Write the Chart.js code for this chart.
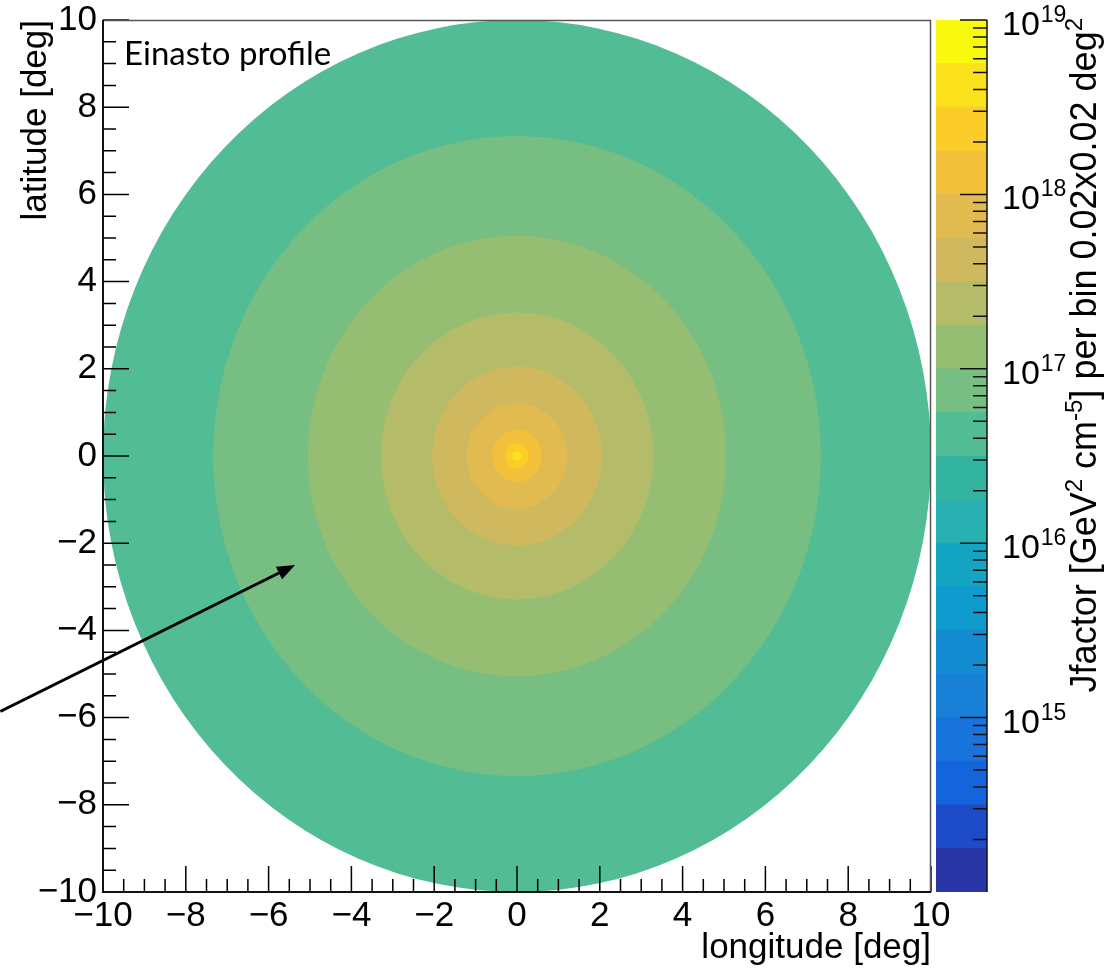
<!DOCTYPE html>
<html>
<head>
<meta charset="utf-8">
<script src="https://cdn.jsdelivr.net/npm/chart.js@4/dist/chart.umd.min.js"></script>
<style>
  body { margin: 0; background: #fff; }
  #wrap { position: relative; width: 1112px; height: 973px; }
  #wrap canvas { position: absolute; left: 0; top: 0; }
</style>
</head>
<body>
<div id="wrap">
  <canvas id="mapCanvas" width="1112" height="973"></canvas>
  <canvas id="barCanvas" width="1112" height="973"></canvas>
</div>
<script>
"use strict";

// rings of the J-factor map (radius in deg, J value of the ring)
const centerLon = 0;
const centerLat = 0;
const ringRadius = [10, 7.34, 5.05, 3.29, 2.05, 1.21, 0.60, 0.29, 0.11];
const ringJ = [4.2e16, 7.5e16, 1.3e17, 2.4e17, 4.2e17, 7.5e17, 1.3e18, 2.4e18, 4.2e18];

// contour levels of the palette (log10 J), 20 bands
const contourExp = [14, 14.25, 14.5, 14.75, 15, 15.25, 15.5, 15.75, 16, 16.25, 16.5,
                    16.75, 17, 17.25, 17.5, 17.75, 18, 18.25, 18.5, 18.75, 19];
const bandColors = ['#2837a5', '#1e4bc8', '#1464dc', '#1973dc', '#1980d7', '#148cd2',
                    '#0f9bcd', '#14a5c3', '#28afaf', '#32b4a0', '#52bc94', '#76be82',
                    '#96be73', '#b4bc69', '#cfb85d', '#e1bb50', '#f3c03c', '#fccd28',
                    '#fbe21d', '#f9f80f'];

// colour bar tick labels (powers of ten) and minor mantissas
const cbarLabelExp = [15, 16, 17, 18, 19];
const cbarMinorDecades = [14, 15, 16, 17, 18];
const cbarMinorMantissa = [2, 3, 4, 5, 6, 7, 8, 9];

// arrow annotation, in deg
const arrowFrom = [-12.48, -5.86];
const arrowTo = [-5.36, -2.50];

const FONT = '"Liberation Sans", Arial, sans-serif';

function colorForJ(j) {
  const e = Math.log10(j);
  for (let k = 0; k < bandColors.length; k++) {
    if (e >= contourExp[k] && e < contourExp[k + 1]) return bandColors[k];
  }
  return bandColors[bandColors.length - 1];
}

function tickLabel(value) {
  if (Math.abs(value % 2) > 1e-9) return '';
  return value < 0 ? '\u2212' + (-value) : String(value);
}

function isMajor(value) {
  return Math.abs(value % 2) < 1e-9;
}

// filled rings, drawn through the scales
const ringsPlugin = {
  id: 'rings',
  beforeDatasetsDraw(chart) {
    const {ctx, chartArea: a, scales: {x, y}} = chart;
    const rings = chart.data.datasets[0].data;
    ctx.save();
    ctx.beginPath();
    ctx.rect(a.left, a.top, a.right - a.left, a.bottom - a.top);
    ctx.clip();
    rings.forEach(p => {
      const cx = x.getPixelForValue(p.x);
      const cy = y.getPixelForValue(p.y);
      const rx = x.getPixelForValue(p.x + p.r) - cx;
      const ry = cy - y.getPixelForValue(p.y + p.r);
      ctx.fillStyle = colorForJ(p.j);
      ctx.beginPath();
      ctx.ellipse(cx, cy, rx, ry, 0, 0, 2 * Math.PI);
      ctx.fill();
    });
    ctx.restore();
  }
};

// ROOT-like frame with inward ticks, arrow and label
const framePlugin = {
  id: 'frame',
  afterDraw(chart) {
    const {ctx, chartArea: a, scales: {x, y}} = chart;
    ctx.save();

    ctx.strokeStyle = '#000';
    ctx.lineWidth = 1.5;
    ctx.beginPath();
    x.ticks.forEach(t => {
      const px = x.getPixelForValue(t.value);
      const len = isMajor(t.value) ? 26 : 13;
      ctx.moveTo(px, a.bottom);
      ctx.lineTo(px, a.bottom - len);
    });
    y.ticks.forEach(t => {
      const py = y.getPixelForValue(t.value);
      const len = isMajor(t.value) ? 26 : 13;
      ctx.moveTo(a.left, py);
      ctx.lineTo(a.left + len, py);
    });
    ctx.stroke();

    // frame
    ctx.strokeStyle = '#555';
    ctx.lineWidth = 1.5;
    ctx.beginPath();
    ctx.moveTo(a.left, a.top + 0.5);
    ctx.lineTo(a.right, a.top + 0.5);
    ctx.moveTo(a.right - 0.5, a.top);
    ctx.lineTo(a.right - 0.5, a.bottom);
    ctx.stroke();
    ctx.strokeStyle = '#111';
    ctx.lineWidth = 2;
    ctx.beginPath();
    ctx.moveTo(a.left, a.top);
    ctx.lineTo(a.left, a.bottom);
    ctx.lineTo(a.right, a.bottom);
    ctx.stroke();

    // arrow
    const x0 = x.getPixelForValue(arrowFrom[0]), y0 = y.getPixelForValue(arrowFrom[1]);
    const x1 = x.getPixelForValue(arrowTo[0]), y1 = y.getPixelForValue(arrowTo[1]);
    const ang = Math.atan2(y1 - y0, x1 - x0);
    const headLen = 18, headW = 7;
    ctx.strokeStyle = '#000';
    ctx.fillStyle = '#000';
    ctx.lineWidth = 3;
    ctx.beginPath();
    ctx.moveTo(x0, y0);
    ctx.lineTo(x1 - headLen * Math.cos(ang), y1 - headLen * Math.sin(ang));
    ctx.stroke();
    ctx.beginPath();
    ctx.moveTo(x1, y1);
    ctx.lineTo(x1 - headLen * Math.cos(ang) + headW * Math.sin(ang), y1 - headLen * Math.sin(ang) - headW * Math.cos(ang));
    ctx.lineTo(x1 - headLen * Math.cos(ang) - headW * Math.sin(ang), y1 - headLen * Math.sin(ang) + headW * Math.cos(ang));
    ctx.closePath();
    ctx.fill();

    // label
    ctx.font = '33px Lato, "Open Sans", sans-serif';
    ctx.fillStyle = '#000';
    ctx.textAlign = 'left';
    ctx.textBaseline = 'alphabetic';
    ctx.fillText('Einasto profile', a.left + 21, a.top + 45);

    ctx.restore();
  }
};

var mapChart = new Chart(document.getElementById('mapCanvas'), {
  type: 'scatter',
  data: {
    datasets: [{
      label: 'Jfactor',
      data: ringRadius.map((r, i) => ({x: centerLon, y: centerLat, r: r, j: ringJ[i]})),
      pointRadius: 0
    }]
  },
  options: {
    responsive: false,
    animation: false,
    layout: { padding: { top: 20, right: 181, left: 0, bottom: 0 } },
    plugins: { legend: { display: false }, tooltip: { enabled: false } },
    scales: {
      x: {
        type: 'linear', min: -10, max: 10,
        ticks: { stepSize: 0.5, autoSkip: false, maxRotation: 0, minRotation: 0, padding: 3,
                 color: '#000', font: { family: FONT, size: 35 }, callback: tickLabel },
        grid: { display: false, drawTicks: false },
        border: { display: false },
        title: { display: true, text: 'longitude [deg]', align: 'end', color: '#000',
                 font: { family: FONT, size: 35 }, padding: { top: 0, bottom: 4 } },
        afterFit: s => { s.height = 81; s.paddingLeft = 0; s.paddingRight = 0; }
      },
      y: {
        type: 'linear', min: -10, max: 10,
        ticks: { stepSize: 0.5, autoSkip: false, padding: 6,
                 color: '#000', font: { family: FONT, size: 35 }, callback: tickLabel },
        grid: { display: false, drawTicks: false },
        border: { display: false },
        title: { display: true, text: 'latitude [deg]', align: 'end', color: '#000',
                 font: { family: FONT, size: 35 }, padding: { top: 15, bottom: 0 } },
        afterFit: s => { s.width = 103; s.paddingTop = 0; s.paddingBottom = 0; }
      }
    }
  },
  plugins: [ringsPlugin, framePlugin]
});

// colour bar axis: ticks, labels and title
const cbarPlugin = {
  id: 'cbar',
  afterDraw(chart) {
    const {ctx, chartArea: a, scales: {y}} = chart;
    ctx.save();
    ctx.strokeStyle = '#111';
    ctx.lineWidth = 1.5;
    ctx.beginPath();
    ctx.moveTo(a.right, a.top);
    ctx.lineTo(a.right, a.bottom);
    cbarLabelExp.forEach(e => {
      const py = y.getPixelForValue(Math.pow(10, e));
      ctx.moveTo(a.right, py);
      ctx.lineTo(a.right - 27, py);
    });
    cbarMinorDecades.forEach(d => {
      cbarMinorMantissa.forEach(m => {
        const py = y.getPixelForValue(m * Math.pow(10, d));
        ctx.moveTo(a.right, py);
        ctx.lineTo(a.right - 14, py);
      });
    });
    ctx.stroke();

    // labels 10^n
    ctx.fillStyle = '#000';
    ctx.textAlign = 'left';
    ctx.textBaseline = 'alphabetic';
    cbarLabelExp.forEach(e => {
      const py = y.getPixelForValue(Math.pow(10, e));
      const lx = a.right + 15;
      ctx.font = '34px ' + FONT;
      ctx.fillText('10', lx, py + 15);
      const w = ctx.measureText('10').width;
      ctx.font = '23px ' + FONT;
      ctx.fillText(String(e), lx + w + 1, py + 2);
    });

    // title, rotated, with superscripts
    const parts = [
      ['Jfactor [GeV', false], ['2', true], [' cm', false], ['-5', true],
      ['] per bin 0.02x0.02 deg', false], ['2', true]
    ];
    const mainFont = '36px ' + FONT, supFont = '24px ' + FONT;
    let total = 0;
    parts.forEach(p => { ctx.font = p[1] ? supFont : mainFont; total += ctx.measureText(p[0]).width; });
    ctx.translate(a.right + 109, a.top - 2);
    ctx.rotate(-Math.PI / 2);
    let cx = -total;
    parts.forEach(p => {
      ctx.font = p[1] ? supFont : mainFont;
      ctx.fillText(p[0], cx, p[1] ? -14 : 0);
      cx += ctx.measureText(p[0]).width;
    });
    ctx.restore();
  }
};

var barChart = new Chart(document.getElementById('barCanvas'), {
  type: 'bar',
  data: {
    labels: ['J'],
    datasets: bandColors.map((c, k) => ({
      label: 'band ' + k,
      data: [[Math.pow(10, contourExp[k]), Math.pow(10, contourExp[k + 1])]],
      backgroundColor: c,
      borderWidth: 0
    }))
  },
  options: {
    responsive: false,
    animation: false,
    layout: { padding: { left: 936, top: 20, bottom: 81, right: 0 } },
    plugins: { legend: { display: false }, tooltip: { enabled: false } },
    datasets: { bar: { grouped: false, barPercentage: 1, categoryPercentage: 1 } },
    scales: {
      x: { display: false },
      y: {
        type: 'logarithmic', position: 'right', min: 1e14, max: 1e19,
        ticks: { display: false },
        grid: { display: false, drawTicks: false },
        border: { display: false },
        afterFit: s => { s.width = 125; s.paddingTop = 0; s.paddingBottom = 0; }
      }
    }
  },
  plugins: [cbarPlugin]
});
</script>
</body>
</html>
